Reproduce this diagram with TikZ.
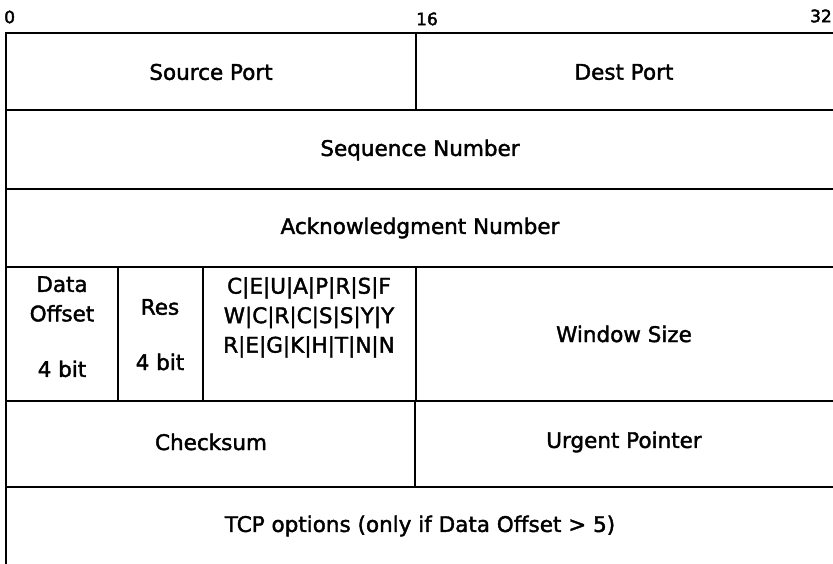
\documentclass[tikz,border=0pt]{standalone}
\usepackage{fontspec}
\setmainfont{DejaVu Sans}
\newfontfamily\semib{DejaVu Sans}[FakeBold=1.8]
\newfontfamily\semil{DejaVu Sans}[FakeBold=2.4]
\begin{document}
\begin{tikzpicture}[x=1pt,y=-1pt,
  grid/.style={line width=1.9pt,black,line cap=rect},
  cell/.style={font=\semib\fontsize{21.5}{29.5}\selectfont,align=center,inner sep=0pt},
  bitlabel/.style={font=\semil\fontsize{17}{19}\selectfont,inner sep=0pt}]
\useasboundingbox (0,0) rectangle (833,564);
% bit labels
\node[bitlabel,anchor=west] (b0) at (4,17) {0};
\node[bitlabel,anchor=west] (b16) at (416,19) {16};
\node[bitlabel,anchor=east] (b32) at (832,16) {32};
% grid
\draw[grid] (6,564) -- (6,33) -- (834,33);
\draw[grid] (6,110) -- (834,110);
\draw[grid] (6,189) -- (834,189);
\draw[grid] (6,267) -- (834,267);
\draw[grid] (6,401) -- (834,401);
\draw[grid] (6,487) -- (834,487);
\draw[grid] (416,33) -- (416,110);
\draw[grid] (118,267) -- (118,401);
\draw[grid] (203,267) -- (203,401);
\draw[grid] (416,267) -- (416,401);
\draw[grid] (415,401) -- (415,487);
% cell texts
\node[cell] (src) at (211,72) {Source Port};
\node[cell] (dst) at (624,72) {Dest Port};
\node[cell] (seq) at (420,150) {Sequence Number};
\node[cell] (ack) at (420,228) {Acknowledgment Number};
\node[cell,anchor=north] (doff) at (62,276) {Data\\Offset\\[26pt]4 bit};
\node[cell] (res) at (160,307) {Res};
\node[cell] (resb) at (160,362) {4 bit};
\node[cell,anchor=north] (flags) at (309,277) {C|E|U|A|P|R|S|F\\W|C|R|C|S|S|Y|Y\\R|E|G|K|H|T|N|N};
\node[cell] (win) at (624,334) {Window Size};
\node[cell] (chk) at (211,442) {Checksum};
\node[cell] (urg) at (624,442) {Urgent Pointer};
\node[cell] (opt) at (420,526) {TCP options (only if Data Offset > 5)};
\end{tikzpicture}
\end{document}
